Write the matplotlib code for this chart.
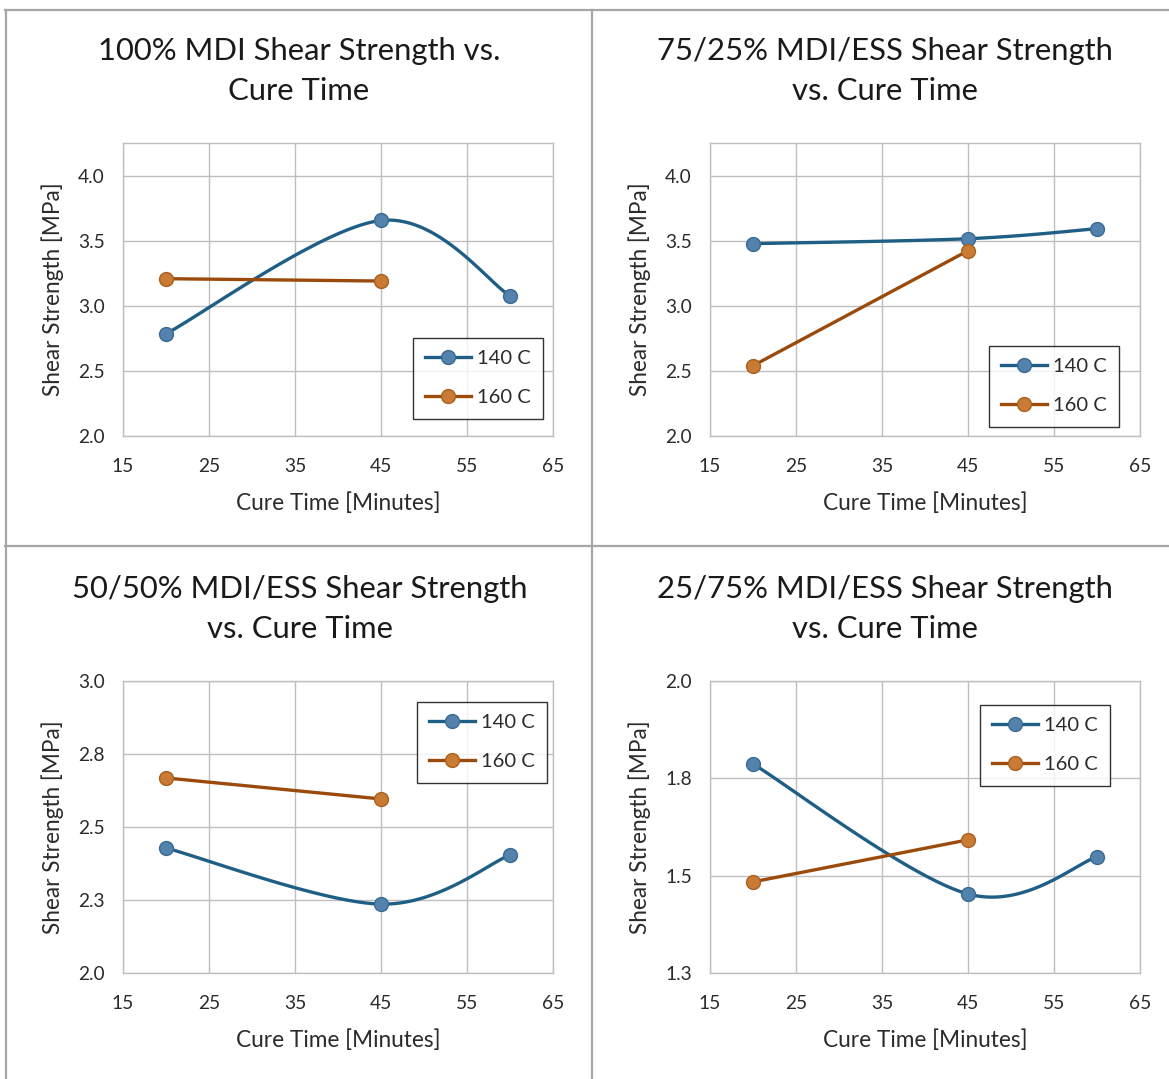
import numpy as np
import matplotlib
matplotlib.use("Agg")
import matplotlib.pyplot as plt
from matplotlib.lines import Line2D

plt.rcParams['font.family'] = ['Lato', 'DejaVu Sans']

# ---------------- data ----------------
titles = ["100% MDI Shear Strength vs.\nCure Time",
          "75/25% MDI/ESS Shear Strength\nvs. Cure Time",
          "50/50% MDI/ESS Shear Strength\nvs. Cure Time",
          "25/75% MDI/ESS Shear Strength\nvs. Cure Time"]
series_names = ["140 C", "160 C"]

x_140 = [20, 45, 60]
x_160 = [20, 45]

y140_mdi100 = [2.785, 3.655, 3.077]
y160_mdi100 = [3.208, 3.19]
y140_7525 = [3.477, 3.515, 3.592]
y160_7525 = [2.54, 3.423]
y140_5050 = [2.428, 2.236, 2.404]
y160_5050 = [2.668, 2.596]
y140_2575 = [1.787, 1.453, 1.548]
y160_2575 = [1.484, 1.592]

x_ticks = [15, 25, 35, 45, 55, 65]
yticks_top = [2.0, 2.5, 3.0, 3.5, 4.0]
ytick_labels_top = ["2.0", "2.5", "3.0", "3.5", "4.0"]
yticks_5050 = [2.0, 2.25, 2.5, 2.75, 3.0]
ytick_labels_5050 = ["2.0", "2.3", "2.5", "2.8", "3.0"]
yticks_2575 = [1.25, 1.5, 1.75, 2.0]
ytick_labels_2575 = ["1.3", "1.5", "1.8", "2.0"]
ylims = [(2.0, 4.25), (2.0, 4.25), (2.0, 3.0), (1.25, 2.0)]

x_label = "Cure Time [Minutes]"
y_label = "Shear Strength [MPa]"

# ---------------- style ----------------
W, H = 1169, 1079
fig = plt.figure(figsize=(W / 100, H / 100), dpi=100)
fig.patch.set_facecolor("white")

c140_line, c140_face, c140_edge = "#1F5F86", "#5382AC", "#3A6B93"
c160_line, c160_face, c160_edge = "#9A4B0C", "#C97A33", "#A9611F"

def smooth(xs, ys, n=60):
    """Excel-like smoothed line (Catmull-Rom Bezier, affine invariant)."""
    P = np.column_stack([xs, ys]).astype(float)
    if len(P) < 3:
        return P[:, 0], P[:, 1]
    ext = np.vstack([P[0], P, P[-1]])
    out = []
    t = np.linspace(0, 1, n)[:, None]
    for i in range(1, len(ext) - 2):
        p0, p1, p2, p3 = ext[i - 1], ext[i], ext[i + 1], ext[i + 2]
        c1 = p1 + (p2 - p0) / 6.0
        c2 = p2 - (p3 - p1) / 6.0
        seg = ((1 - t) ** 3) * p1 + 3 * ((1 - t) ** 2) * t * c1 + 3 * (1 - t) * t ** 2 * c2 + t ** 3 * p2
        out.append(seg if i == 1 else seg[1:])
    out = np.vstack(out)
    return out[:, 0], out[:, 1]

# axes rectangles in pixels (left, top, right, bottom)
rects = [(123, 143, 553, 436), (710, 143, 1140, 436),
         (123, 681, 553, 973), (710, 681, 1140, 973)]
# legend upper-left corners in pixels
legend_corners = [(413, 338), (989, 346), (417, 702), (980, 705)]
title_pos = [(299, 71), (885, 71), (300, 609), (885, 609)]

data = [(y140_mdi100, y160_mdi100), (y140_7525, y160_7525),
        (y140_5050, y160_5050), (y140_2575, y160_2575)]
yticks_all = [(yticks_top, ytick_labels_top), (yticks_top, ytick_labels_top),
              (yticks_5050, ytick_labels_5050), (yticks_2575, ytick_labels_2575)]

tick_color = "#2b2b2b"
grid_color = "#BFBFBF"
LW = 2.4
MS = 10

for k in range(4):
    l, t, r, b = rects[k]
    ax = fig.add_axes([l / W, 1 - b / H, (r - l) / W, (b - t) / H])
    y140, y160 = data[k]

    sx, sy = smooth(x_140, y140)
    ax.plot(sx, sy, color=c140_line, lw=LW, solid_capstyle="round", zorder=3)
    ax.plot(x_140, y140, ls="none", marker="o", ms=MS, mfc=c140_face,
            mec=c140_edge, mew=1.0, zorder=4)
    sx2, sy2 = smooth(x_160, y160)
    ax.plot(sx2, sy2, color=c160_line, lw=LW, solid_capstyle="round", zorder=3)
    ax.plot(x_160, y160, ls="none", marker="o", ms=MS, mfc=c160_face,
            mec=c160_edge, mew=1.0, zorder=4)

    ax.set_xlim(15, 65)
    ax.set_ylim(*ylims[k])
    ax.set_xticks(x_ticks)
    ax.set_xticklabels([str(v) for v in x_ticks])
    yt, ytl = yticks_all[k]
    ax.set_yticks(yt)
    ax.set_yticklabels(ytl)
    ax.grid(True, color=grid_color, lw=1.0)
    ax.set_axisbelow(True)
    for s in ax.spines.values():
        s.set_color(grid_color)
        s.set_linewidth(1.0)
    ax.tick_params(length=0, labelsize=13.8, colors=tick_color)
    ax.tick_params(axis="y", pad=13)
    ax.tick_params(axis="x", pad=16)
    ax.set_xlabel(x_label, fontsize=16.3, color=tick_color, labelpad=12)
    ax.set_ylabel(y_label, fontsize=16.3, color=tick_color, labelpad=10)

    handles = [Line2D([], [], color=c140_line, lw=LW, marker="o", ms=MS,
                      mfc=c140_face, mec=c140_edge),
               Line2D([], [], color=c160_line, lw=LW, marker="o", ms=MS,
                      mfc=c160_face, mec=c160_edge)]
    lx, ly = legend_corners[k]
    leg = ax.legend(handles, series_names, loc="upper left",
                    bbox_to_anchor=(lx / W, 1 - ly / H),
                    bbox_transform=fig.transFigure,
                    fontsize=14.5, frameon=True, fancybox=False,
                    edgecolor="black", handlelength=2.3, handletextpad=0.3,
                    labelspacing=1.1, borderpad=0.6, borderaxespad=0)
    leg.get_frame().set_linewidth(1.0)
    for txt in leg.get_texts():
        txt.set_color(tick_color)

    tx, ty = title_pos[k]
    fig.text(tx / W, 1 - ty / H, titles[k], ha="center", va="center",
             fontsize=22.3, color="#1a1a1a", linespacing=1.5)

# panel borders
bc = "#A6A6A6"
blw = 1.6
fig.add_artist(Line2D([5 / W, 1], [1 - 10 / H, 1 - 10 / H], color=bc, lw=blw))
fig.add_artist(Line2D([5.5 / W, 5.5 / W], [0, 1 - 10 / H], color=bc, lw=blw))
fig.add_artist(Line2D([591.5 / W, 591.5 / W], [0, 1 - 10 / H], color=bc, lw=blw))
fig.add_artist(Line2D([5 / W, 1], [1 - 546 / H, 1 - 546 / H], color=bc, lw=blw))

fig.savefig("out.png", dpi=100, facecolor="white")
